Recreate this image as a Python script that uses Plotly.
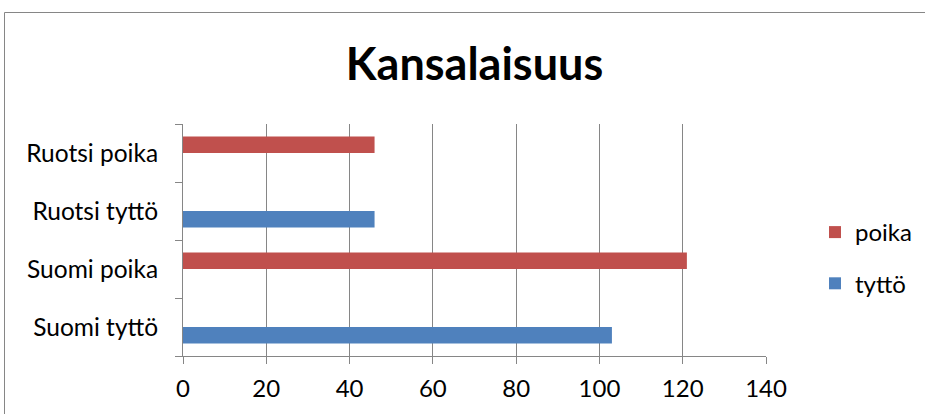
import plotly.graph_objects as go

categories = ["Suomi tyttö", "Suomi poika", "Ruotsi tyttö", "Ruotsi poika"]
tytto_values = [103, 0, 46, 0]
poika_values = [0, 121, 0, 46]
x_ticks = [0, 20, 40, 60, 80, 100, 120, 140]

FONT = "Lato"
AXIS_GRAY = "#868686"

fig = go.Figure()
fig.add_trace(go.Bar(
    y=categories, x=tytto_values, name="tyttö", orientation="h",
    marker=dict(color="#4F81BD", line=dict(width=0)), legendgroup="t", legendrank=2,
))
fig.add_trace(go.Bar(
    y=categories, x=poika_values, name="poika", orientation="h",
    marker=dict(color="#C0504D", line=dict(width=0)), legendgroup="p", legendrank=1,
))

L, R, T, B = 183, 159, 124, 58
pw = 925 - L - R
ph = 414 - T - B

fig.update_layout(
    width=925, height=414,
    margin=dict(l=L, r=R, t=T, b=B, pad=0, autoexpand=False),
    paper_bgcolor="white", plot_bgcolor="white",
    barmode="group", bargap=0.43, bargroupgap=0,
    font=dict(family=FONT, color="#000000"),
    title=dict(text="<b>Kansalaisuus</b>", font=dict(family=FONT, size=45, color="#000000"),
               x=0.5, xref="paper", xanchor="center",
               y=1 - 64 / 414, yref="container", yanchor="middle"),
    showlegend=True,
    legend=dict(
        x=(815 - L) / pw, xanchor="left", y=1 - (258 - T) / ph, yanchor="middle",
        traceorder="grouped", tracegroupgap=17,
        font=dict(family=FONT, size=24), bgcolor="rgba(0,0,0,0)",
    ),
    xaxis=dict(
        range=[0, 140], tickvals=x_ticks, showgrid=True, gridcolor=AXIS_GRAY, gridwidth=1,
        showline=True, linecolor=AXIS_GRAY, linewidth=1, ticks="outside", ticklen=7,
        tickcolor=AXIS_GRAY, tickfont=dict(family=FONT, size=24), zeroline=False,
        fixedrange=True, automargin=False, ticklabelstandoff=4,
    ),
    yaxis=dict(
        categoryorder="array", categoryarray=categories, showgrid=False,
        showline=True, linecolor=AXIS_GRAY, linewidth=1, ticks="outside", ticklen=7,
        tickcolor=AXIS_GRAY, tickson="boundaries", tickfont=dict(family=FONT, size=24.5),
        zeroline=False, fixedrange=True, mirror=False, automargin=False,
        ticklabelstandoff=19,
    ),
    shapes=[dict(
        type="rect", xref="paper", yref="paper",
        x0=(4.5 - L) / pw, x1=(1000 - L) / pw,
        y0=1 - (500 - T) / ph, y1=1 + (T - 12.5) / ph,
        line=dict(color="#868686", width=1), fillcolor="rgba(0,0,0,0)", layer="below",
    )],
)

fig.write_html("out.html", post_script="document.body.style.margin='0px';",
               config={"displayModeBar": False})
